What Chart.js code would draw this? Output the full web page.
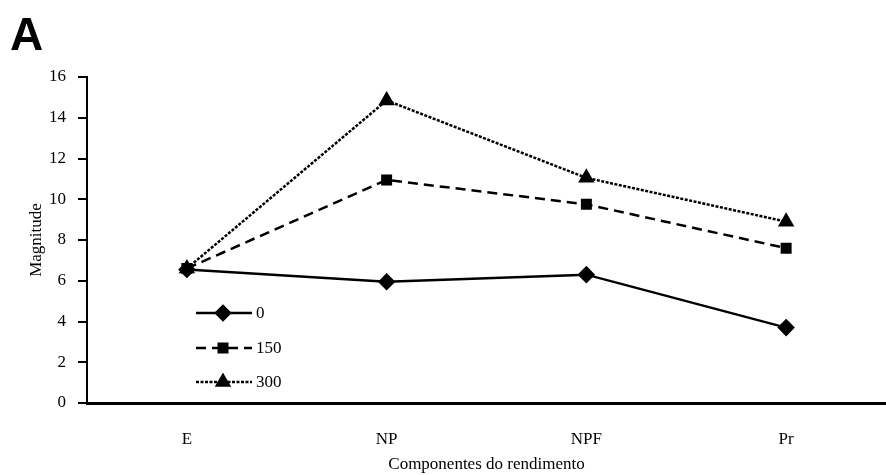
<!DOCTYPE html>
<html>
<head>
<meta charset="utf-8">
<script src="https://cdn.jsdelivr.net/npm/chart.js@4"></script>
<style>
  body { margin: 0; background: #fff; }
  #wrap { width: 886px; height: 475px; }
</style>
</head>
<body>
<div id="wrap"><canvas id="grafico" width="886" height="475"></canvas></div>
<script>
var categorias = ["E", "NP", "NPF", "Pr"];
var serie0 = [6.55, 5.95, 6.3, 3.7];
var serie150 = [6.6, 10.95, 9.75, 7.6];
var serie300 = [6.6, 14.85, 11.05, 8.9];
var rotulos = ["0", "150", "300"];
var ticksY = [0, 2, 4, 6, 8, 10, 12, 14, 16];

var fonte = "Liberation Serif";

// legend drawn inside the plot, lower left
var legendaPlugin = {
    id: 'legenda',
    afterDraw: function(chart) {
        var ctx = chart.ctx;
        var linhas = [313, 348, 382];
        ctx.save();
        chart.data.datasets.forEach(function(ds, i) {
            var y = linhas[i];
            ctx.strokeStyle = '#000';
            ctx.lineWidth = 2.5;
            ctx.setLineDash(ds.borderDash || []);
            ctx.beginPath();
            ctx.moveTo(196, y);
            ctx.lineTo(252, y);
            ctx.stroke();
            ctx.setLineDash([]);
            Chart.helpers.drawPoint(ctx, {
                pointStyle: ds.pointStyle,
                radius: ds.pointRadius,
                rotation: 0,
                borderWidth: 1
            }, 223, y);
            ctx.fillStyle = '#000';
            ctx.font = '17px "' + fonte + '"';
            ctx.textBaseline = 'middle';
            ctx.fillText(ds.label, 256, y + 1);
        });
        ctx.font = 'bold 46px "Liberation Sans"';
        ctx.textBaseline = 'alphabetic';
        ctx.fillText('A', 10, 50);
        ctx.restore();
    }
};

var ctx = document.getElementById('grafico').getContext('2d');
var chart = new Chart(ctx, {
    type: 'line',
    data: {
        labels: categorias,
        datasets: [{
            label: rotulos[0],
            data: serie0,
            borderColor: '#000',
            backgroundColor: '#000',
            borderWidth: 2.5,
            pointStyle: 'rectRot',
            pointRadius: 7,
            tension: 0
        },
        {
            label: rotulos[1],
            data: serie150,
            borderColor: '#000',
            backgroundColor: '#000',
            borderWidth: 2.5,
            borderDash: [10, 6],
            pointStyle: 'rect',
            pointRadius: 6,
            tension: 0
        },
        {
            label: rotulos[2],
            data: serie300,
            borderColor: '#000',
            backgroundColor: '#000',
            borderWidth: 2.5,
            borderDash: [3, 1.5],
            pointStyle: 'triangle',
            pointRadius: 7,
            tension: 0
        }]
    },
    options: {
        responsive: false,
        animation: false,
        layout: { autoPadding: false, padding: { top: 77, right: 0, left: 0, bottom: 0 } },
        plugins: {
            legend: { display: false },
            tooltip: { enabled: false }
        },
        scales: {
            x: {
                offset: true,
                grid: { display: false, drawTicks: false },
                border: { color: '#000', width: 3 },
                ticks: { color: '#000', font: { family: fonte, size: 17 }, padding: 26 },
                title: {
                    display: true,
                    text: 'Componentes do rendimento',
                    color: '#000',
                    font: { family: fonte, size: 17 },
                    padding: { top: 5, bottom: 0 }
                },
                afterFit: function(s) {
                    s.height = 72;
                    s.paddingLeft = 0;
                    s.paddingRight = 0;
                }
            },
            y: {
                min: 0,
                max: 16,
                afterBuildTicks: function(s) {
                    s.ticks = ticksY.map(function(v) { return { value: v }; });
                },
                grid: { drawOnChartArea: false, drawTicks: true, tickLength: 9, color: '#000', lineWidth: 2 },
                border: { color: '#000', width: 2 },
                ticks: { color: '#000', font: { family: fonte, size: 17 }, padding: 12 },
                title: {
                    display: true,
                    text: 'Magnitude',
                    color: '#000',
                    font: { family: fonte, size: 17 },
                    padding: { top: 26, bottom: 4 }
                },
                afterFit: function(s) { s.width = 87; }
            }
        }
    },
    plugins: [legendaPlugin]
});
</script>
</body>
</html>
